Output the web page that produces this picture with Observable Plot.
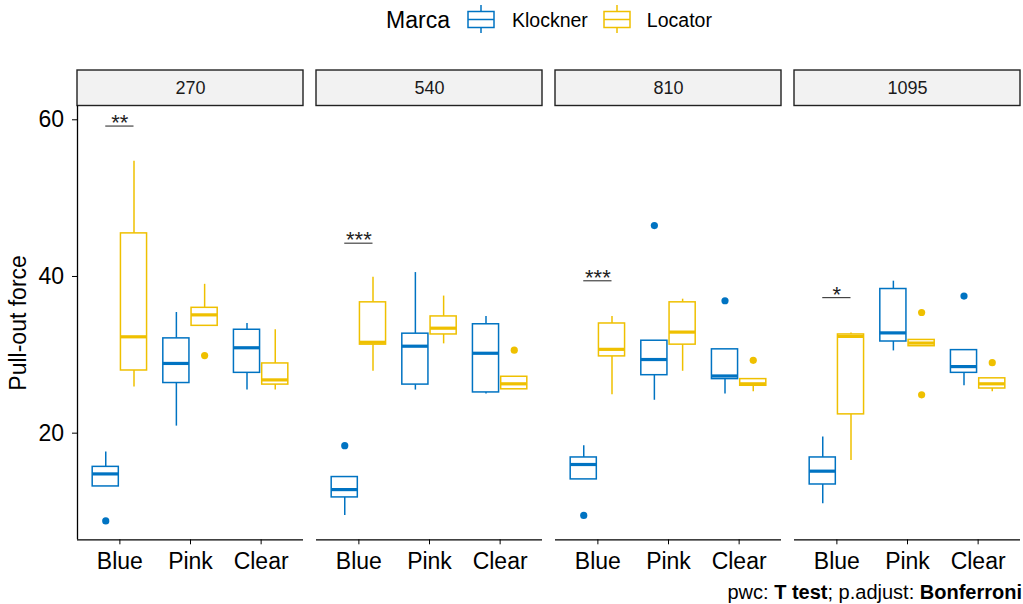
<!DOCTYPE html>
<html>
<head>
<meta charset="utf-8">
<script src="https://cdn.jsdelivr.net/npm/d3@7"></script>
<script src="https://cdn.jsdelivr.net/npm/@observablehq/plot@0.6"></script>
<style>
  html, body { margin: 0; padding: 0; background: #fff; }
  body { width: 1023px; height: 604px; overflow: hidden; font-family: "Liberation Sans", Arial, sans-serif; color: #000; }
  #legend { height: 40px; box-sizing: border-box; padding-left: 77px; padding-right: 2px; display: flex; justify-content: center; align-items: center; }
  #legend .title { font-size: 23px; margin-right: 17px; }
  #legend .lab { font-size: 19.5px; }
  #legend svg { display: block; margin-top: -2px; }
  #caption { height: 24px; line-height: 24px; text-align: right; font-size: 20px; padding-right: 1px; }
  #chart svg { display: block; overflow: visible; }
</style>
</head>
<body>
<div id="legend"></div>
<div id="chart"></div>
<div id="caption">pwc: <b>T test</b>; p.adjust: <b>Bonferroni</b></div>
<script>
// ---------- data ----------
const times = ["270", "540", "810", "1095"];
const categories = ["Blue", "Pink", "Clear"];
const brands = ["Klockner", "Locator"];
const brandColors = ["#0073C2", "#EFC000"];

// order: for each time, for each category, Klockner then Locator
const whiskerLow = [
  13.2, 25.9, 20.9, 33.7, 25.5, 25.5,
  9.5, 27.9, 25.5, 31.4, 25.0, 25.6,
  14.1, 24.9, 24.2, 27.9, 25.0, 25.3,
  11.0, 16.5, 30.5, 31.1, 26.05, 25.3
];
const quartile1 = [
  13.2, 28.0, 26.4, 33.7, 27.7, 26.2,
  11.8, 31.3, 26.2, 32.6, 25.2, 25.6,
  14.1, 29.8, 27.4, 31.3, 26.9, 26.05,
  13.45, 22.4, 31.7, 31.1, 27.7, 25.7
];
const medians = [
  14.8, 32.3, 28.9, 35.1, 30.9, 26.8,
  12.8, 31.6, 31.1, 33.4, 30.2, 26.3,
  16.0, 30.7, 29.4, 32.9, 27.3, 26.3,
  15.15, 32.35, 32.8, 31.5, 28.5, 26.3
];
const quartile3 = [
  15.7, 45.5, 32.1, 36.0, 33.2, 28.9,
  14.4, 36.7, 32.7, 34.9, 33.9, 27.2,
  16.9, 34.0, 31.8, 36.7, 30.7, 26.9,
  16.9, 32.6, 38.4, 31.9, 30.6, 27.0
];
const whiskerHigh = [
  17.6, 54.7, 35.4, 39.0, 34.0, 33.2,
  14.4, 39.9, 40.5, 37.5, 34.9, 27.2,
  18.4, 34.9, 31.8, 37.1, 30.7, 26.9,
  19.5, 32.8, 39.4, 31.9, 30.6, 27.0
];

const outlierTime  = ["270", "270", "540", "540", "810", "810", "810", "810", "1095", "1095", "1095", "1095"];
const outlierCat   = ["Blue", "Pink", "Blue", "Clear", "Blue", "Pink", "Clear", "Clear", "Pink", "Pink", "Clear", "Clear"];
const outlierBrand = ["Klockner", "Locator", "Klockner", "Locator", "Klockner", "Klockner", "Klockner", "Locator", "Locator", "Locator", "Klockner", "Locator"];
const outlierValue = [8.8, 29.9, 18.4, 30.6, 9.5, 46.5, 36.9, 29.3, 35.4, 24.9, 37.5, 29.0];

const sigTime  = ["270", "540", "810", "1095"];
const sigValue = [59.2, 44.25, 39.45, 37.3];
const sigLabel = ["**", "***", "***", "*"];

const yTicks = [20, 40, 60];
const yDomain = [6.39, 61.76];
const stripTop = 66.29;

// ---------- build tables ----------
const dodge = 0.2, halfBox = 0.185;
const rows = [];
let k = 0;
for (const t of times) {
  categories.forEach((c, ci) => {
    brands.forEach((b, bi) => {
      rows.push({
        time: t, cat: c, brand: b,
        xc: ci + (bi === 0 ? -dodge : dodge),
        low: whiskerLow[k], q1: quartile1[k], med: medians[k], q3: quartile3[k], high: whiskerHigh[k]
      });
      k++;
    });
  });
}
const outliers = outlierValue.map((v, i) => ({
  time: outlierTime[i], brand: outlierBrand[i], value: v,
  xc: categories.indexOf(outlierCat[i]) + (outlierBrand[i] === brands[0] ? -dodge : dodge)
}));
const sigs = sigTime.map((t, i) => ({time: t, y: sigValue[i], label: sigLabel[i]}));

// ---------- legend ----------
const legend = document.getElementById("legend");
legend.innerHTML = `<span class="title">Marca</span>` + brands.map((b, i) => `
  <svg width="28" height="30" viewBox="0 0 28 30" style="margin-right:${i === 0 ? 17 : 16}px">
    <line x1="14" x2="14" y1="1" y2="29" stroke="${brandColors[i]}" stroke-width="1.5"/>
    <rect x="1" y="7.5" width="26" height="16" fill="#fff" stroke="${brandColors[i]}" stroke-width="1.5"/>
    <line x1="1" x2="27" y1="15.5" y2="15.5" stroke="${brandColors[i]}" stroke-width="1.5"/>
  </svg><span class="lab" style="margin-right:${i === 0 ? 15 : 0}px">${b}</span>`).join("");

// ---------- plot ----------
const chart = Plot.plot({
  width: 1023,
  height: 540,
  marginLeft: 77,
  marginRight: 2,
  marginTop: 65.5,
  marginBottom: 40.7,
  style: {fontFamily: "'Liberation Sans', Arial, sans-serif", fontSize: "23px", color: "#000", background: "#fff"},
  fx: {domain: times, paddingInner: 0.053, paddingOuter: 0, axis: null, label: null},
  x: {type: "linear", domain: [-0.6, 2.6]},
  y: {domain: yDomain},
  color: {domain: brands, range: brandColors},
  marks: [
    // strips
    Plot.rect(times, {fx: d => d, x1: -0.6, x2: 2.6, y1: yDomain[1], y2: stripTop, fill: "#F2F2F2", stroke: "#222", strokeWidth: 1.4}),
    Plot.text(times, {fx: d => d, x: 1, y: (yDomain[1] + stripTop) / 2, text: d => d, fontSize: 18, fill: "#1A1A1A"}),
    // axis lines
    Plot.ruleY([yDomain[0]], {stroke: "#000", strokeWidth: 1.3}),
    Plot.ruleX([times[0]], {fx: d => d, x: -0.6, stroke: "#000", strokeWidth: 1.3}),
    Plot.axisX({ticks: [0, 1, 2], tickFormat: i => categories[i], tickSize: 5, tickPadding: 8, fontSize: 23, label: null}),
    Plot.axisY({ticks: yTicks, tickSize: 5, tickPadding: 8.5, fontSize: 23, label: null}),
    Plot.text(["Pull-out force"], {fx: () => times[0], frameAnchor: "left", textAnchor: "middle", text: d => d, rotate: -90, dx: -58.5, fontSize: 23}),
    // whiskers
    Plot.ruleX(rows, {fx: "time", x: "xc", y1: "low", y2: "q1", stroke: "brand", strokeWidth: 1.5}),
    Plot.ruleX(rows, {fx: "time", x: "xc", y1: "q3", y2: "high", stroke: "brand", strokeWidth: 1.5}),
    // boxes
    Plot.rect(rows, {fx: "time", x1: d => d.xc - halfBox, x2: d => d.xc + halfBox, y1: "q1", y2: "q3", fill: "#fff", stroke: "brand", strokeWidth: 1.5}),
    // medians
    Plot.ruleY(rows, {fx: "time", y: "med", x1: d => d.xc - halfBox, x2: d => d.xc + halfBox, stroke: "brand", strokeWidth: 3.2}),
    // outliers
    Plot.dot(outliers, {fx: "time", x: "xc", y: "value", r: 3.6, fill: "brand", stroke: null}),
    // significance brackets
    Plot.ruleY(sigs, {fx: "time", y: "y", x1: -dodge, x2: dodge, stroke: "#333", strokeWidth: 1.1}),
    Plot.text(sigs, {fx: "time", x: 0, y: "y", text: "label", lineAnchor: "bottom", dy: 4, fontSize: 22, fill: "#222"})
  ]
});
document.getElementById("chart").appendChild(chart);
</script>
</body>
</html>
